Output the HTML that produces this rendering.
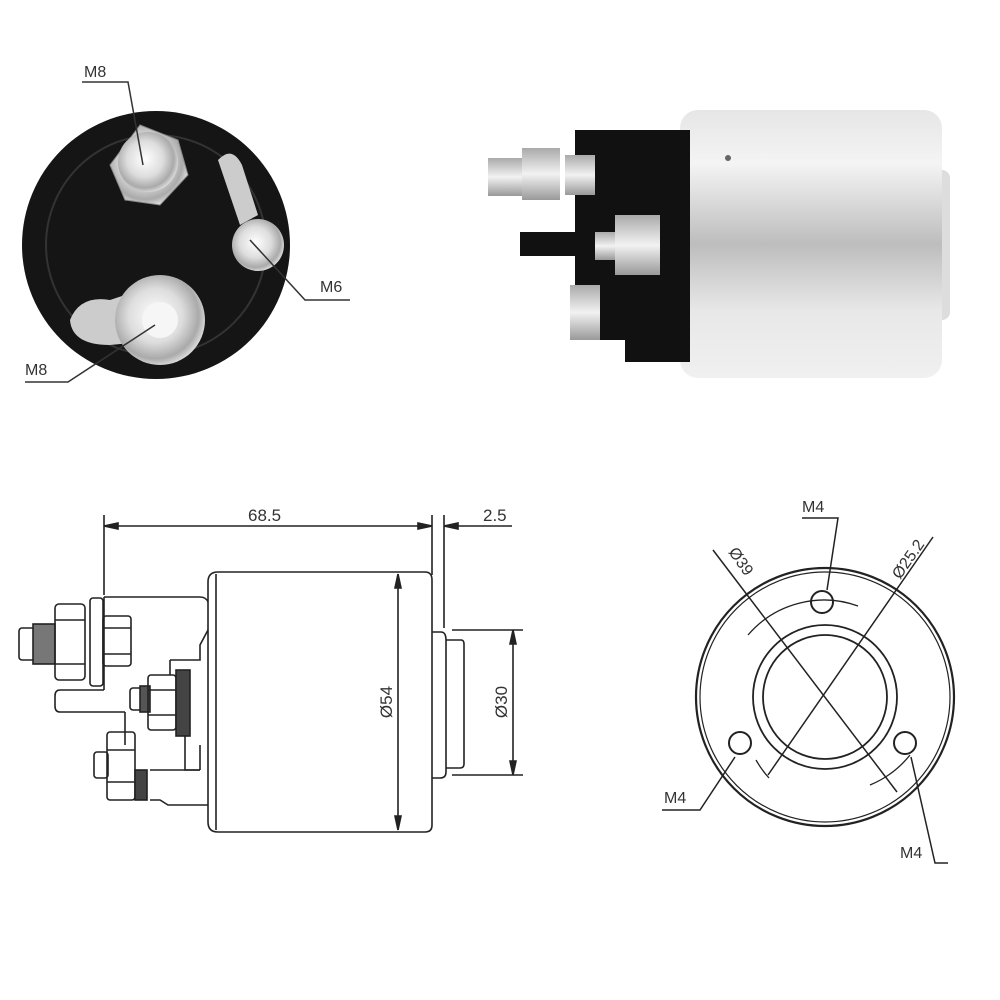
<!DOCTYPE html>
<html><head><meta charset="utf-8"><style>
html,body{margin:0;padding:0;background:#fff;width:1000px;height:1000px;overflow:hidden}
text{font-family:"Liberation Sans",sans-serif;fill:#333}
</style></head><body>
<svg width="1000" height="1000" viewBox="0 0 1000 1000" xmlns="http://www.w3.org/2000/svg">
<defs>
<radialGradient id="met" cx="0.45" cy="0.45" r="0.6"><stop offset="0" stop-color="#fff"/><stop offset="0.5" stop-color="#ddd"/><stop offset="0.8" stop-color="#aaa"/><stop offset="1" stop-color="#eee"/></radialGradient>
<linearGradient id="cyl" x1="0" y1="0" x2="0" y2="1"><stop offset="0" stop-color="#e6e6e6"/><stop offset="0.2" stop-color="#f4f4f4"/><stop offset="0.5" stop-color="#bdbdbd"/><stop offset="0.75" stop-color="#e8e8e8"/><stop offset="1" stop-color="#f0f0f0"/></linearGradient>
<linearGradient id="bolt" x1="0" y1="0" x2="0" y2="1"><stop offset="0" stop-color="#aaa"/><stop offset="0.5" stop-color="#f2f2f2"/><stop offset="1" stop-color="#999"/></linearGradient>
</defs>

<!-- top-left photo -->
<circle cx="156" cy="245" r="134" fill="#151515"/>
<circle cx="156" cy="245" r="110" fill="none" stroke="#333" stroke-width="2"/>
<path d="M110 165 L140 125 L178 140 L188 175 L160 205 L125 200 Z" fill="url(#met)" stroke="#888"/>
<circle cx="148" cy="162" r="30" fill="url(#met)"/>
<path d="M218 160 Q232 145 242 165 L258 215 L240 225 Z" fill="#ccc"/>
<circle cx="258" cy="245" r="26" fill="url(#met)"/>
<path d="M70 320 Q80 295 110 300 L140 290 L160 340 L110 345 Q72 345 70 320Z" fill="#ccc"/>
<circle cx="160" cy="320" r="45" fill="url(#met)"/>
<circle cx="160" cy="320" r="18" fill="#f6f6f6"/>
<g stroke="#333" stroke-width="1.5" fill="none">
<path d="M82 82 H128 L143 165"/>
<path d="M250 240 L305 300 H350"/>
<path d="M25 382 H68 L155 325"/>
</g>
<text x="84" y="77" font-size="16">M8</text>
<text x="320" y="292" font-size="16">M6</text>
<text x="25" y="375" font-size="16">M8</text>

<!-- top-right photo -->
<rect x="930" y="170" width="20" height="150" rx="8" fill="#ddd"/>
<rect x="680" y="110" width="262" height="268" rx="18" fill="url(#cyl)"/>
<path d="M575 130 H690 V362 H625 V340 H575 Z" fill="#111"/>
<rect x="520" y="232" width="80" height="24" fill="#111"/>
<rect x="488" y="158" width="40" height="38" fill="url(#bolt)"/>
<rect x="522" y="148" width="38" height="52" fill="url(#bolt)"/>
<rect x="565" y="155" width="30" height="40" fill="url(#bolt)"/>
<rect x="595" y="232" width="30" height="28" fill="url(#bolt)"/>
<rect x="615" y="215" width="45" height="60" fill="url(#bolt)"/>
<rect x="570" y="285" width="30" height="55" fill="url(#bolt)"/>
<circle cx="728" cy="158" r="3" fill="#666"/>

<!-- bottom-left drawing -->
<g stroke="#222" stroke-width="1.6" fill="none">
<path d="M104 515 V595"/>
<path d="M432 515 V575"/>
<path d="M444 515 V628"/>
<path d="M104 526 H432"/>
<path d="M444 526 H512"/>
<path d="M104 526 l14 -3 v6 z" fill="#222"/>
<path d="M432 526 l-14 -3 v6 z" fill="#222"/>
<path d="M444 526 l14 -3 v6 z" fill="#222"/>
<path d="M218 572 H425 Q432 572 432 580 V825 Q432 832 425 832 H218 Q208 832 208 822 V582 Q208 572 218 572 Z"/>
<path d="M216 574 V830"/>
<path d="M432 632 H441 Q446 632 446 640 V772 Q446 778 440 778 H432"/>
<path d="M446 640 H461 Q464 640 464 644 V764 Q464 768 460 768 H446"/>
<path d="M398 574 V830"/>
<path d="M398 574 l-3 14 h6 z" fill="#222"/>
<path d="M398 830 l-3 -14 h6 z" fill="#222"/>
<path d="M452 630 H523"/>
<path d="M452 775 H523"/>
<path d="M513 630 V775"/>
<path d="M513 630 l-3 14 h6 z" fill="#222"/>
<path d="M513 775 l-3 -14 h6 z" fill="#222"/>
<!-- bracket -->
<path d="M104 597 H200 Q206 597 208 602"/>
<path d="M104 597 V690"/>
<path d="M60 690 H104 M60 712 H125 M60 690 Q55 690 55 696 V706 Q55 712 60 712"/>
<path d="M125 712 V745 M170 660 H200 V645 L208 630"/>
<path d="M170 660 V675 M185 732 V770 H200"/>
<path d="M150 770 H200 M150 800 H160 L168 805 H208"/>
<!-- top bolt -->
<rect x="19" y="628" width="16" height="32" rx="3"/>
<rect x="33" y="624" width="22" height="40" fill="#777"/>
<rect x="55" y="604" width="30" height="76" rx="4"/>
<path d="M55 620 H85 M55 664 H85"/>
<rect x="90" y="598" width="13" height="88" rx="3"/>
<rect x="103" y="616" width="28" height="50" rx="3"/>
<path d="M103 628 H131 M103 654 H131"/>
<!-- middle bolt -->
<rect x="130" y="688" width="14" height="22" rx="3"/>
<rect x="140" y="686" width="10" height="26" fill="#555"/>
<rect x="148" y="675" width="28" height="55" rx="3"/>
<path d="M148 690 H176 M148 715 H176"/>
<rect x="176" y="670" width="14" height="66" fill="#444"/>
<!-- bottom bolt -->
<rect x="94" y="752" width="14" height="26" rx="3"/>
<rect x="107" y="732" width="28" height="68" rx="3"/>
<path d="M107 750 H135 M107 782 H135"/>
<rect x="135" y="770" width="12" height="30" fill="#444"/>
<path d="M200 745 V770"/>
</g>
<text x="248" y="521" font-size="17">68.5</text>
<text x="483" y="521" font-size="17">2.5</text>
<text transform="translate(392 702) rotate(-90)" font-size="17" text-anchor="middle">Ø54</text>
<text transform="translate(507 702) rotate(-90)" font-size="17" text-anchor="middle">Ø30</text>

<!-- bottom-right drawing -->
<g stroke="#222" fill="none">
<circle cx="825" cy="697" r="129" stroke-width="2.2"/>
<circle cx="825" cy="697" r="125" stroke-width="1.2"/>
<circle cx="825" cy="697" r="72" stroke-width="1.8"/>
<circle cx="825" cy="697" r="62" stroke-width="1.8"/>
<path d="M748 635 A100 100 0 0 1 858 606" stroke-width="1.3"/>
<path d="M769 778 A100 100 0 0 1 756 760" stroke-width="1.3"/>
<path d="M870 785 A100 100 0 0 0 910 755" stroke-width="1.3"/>
<circle cx="822" cy="602" r="11" stroke-width="2"/>
<circle cx="740" cy="743" r="11" stroke-width="2"/>
<circle cx="905" cy="743" r="11" stroke-width="2"/>
<path d="M713 550 L897 792" stroke-width="1.5"/>
<path d="M933 537 L768 775" stroke-width="1.5"/>
<path d="M802 518 H838 L827 590" stroke-width="1.5"/>
<path d="M662 810 H700 L735 757" stroke-width="1.5"/>
<path d="M948 863 H935 L911 757" stroke-width="1.5"/>
</g>
<text x="802" y="512" font-size="16">M4</text>
<text x="664" y="803" font-size="16">M4</text>
<text x="900" y="858" font-size="16">M4</text>
<text transform="translate(728 552) rotate(55)" font-size="16">Ø39</text>
<text transform="translate(900 580) rotate(-55)" font-size="16">Ø25.2</text>
</svg>
</body></html>
